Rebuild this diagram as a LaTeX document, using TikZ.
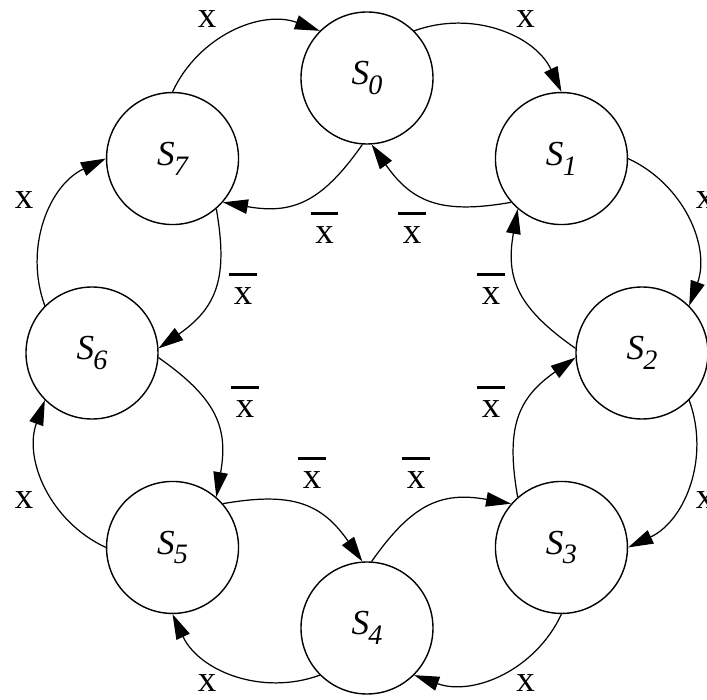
\documentclass[tikz,border=0pt]{standalone}
\usepackage{fontspec}
\setmainfont{Liberation Serif}
\usetikzlibrary{arrows.meta}

\newcommand{\sname}[1]{S\kern-0.02em\raisebox{-0.28em}{\fontsize{16}{16}\selectfont #1}}
\newcommand{\xbar}{\vbox{\hrule width 0.75em height 0.065em\kern 0.33em\hbox to 0.75em{\hfil x\hfil}}}

\begin{document}
\begin{tikzpicture}[>={Triangle[length=5mm, width=2.9mm]}, line width=0.7pt,
  state/.style={circle, draw, line width=0.8pt, minimum size=2.64cm, inner sep=0pt,
    font=\fontsize{20}{22}\selectfont\itshape},
  edge/.style={->, line width=0.7pt},
  inner/.style={edge, looseness=1.2},
  lbl/.style={font=\fontsize{21}{22}\selectfont, inner sep=0pt}]

% Frame
\useasboundingbox (-7.34,-6.94) rectangle (6.80,7.06);

% States
\node[state] (s0) at (90:5.5) {\sname{0}};
\node[state] (s1) at (45:5.5) {\sname{1}};
\node[state] (s2) at (0:5.5) {\sname{2}};
\node[state] (s3) at (-45:5.5) {\sname{3}};
\node[state] (s4) at (-90:5.5) {\sname{4}};
\node[state] (s5) at (-135:5.5) {\sname{5}};
\node[state] (s6) at (180:5.5) {\sname{6}};
\node[state] (s7) at (135:5.5) {\sname{7}};

% Outer arcs: x
\draw[edge] (s0.45) to[out=20, in=115] (s1.90);
\draw[edge] (s1.0) to[out=-25, in=70] (s2.45);
\draw[edge] (s2.-45) to[out=-70, in=25] (s3.0);
\draw[edge] (s3.-90) to[out=-115, in=-20] (s4.-45);
\draw[edge] (s4.-135) to[out=-160, in=-65] (s5.-90);
\draw[edge] (s5.180) to[out=155, in=-110] (s6.-135);
\draw[edge] (s6.135) to[out=110, in=205] (s7.180);
\draw[edge] (s7.90) to[out=65, in=160] (s0.135);

\node[lbl] (x01) at (3.17,6.68) {x};
\node[lbl] (x12) at (6.76,3.05) {x};
\node[lbl] (x23) at (6.76,-2.95) {x};
\node[lbl] (x34) at (3.17,-6.6) {x};
\node[lbl] (x45) at (-3.2,-6.6) {x};
\node[lbl] (x56) at (-6.86,-2.95) {x};
\node[lbl] (x67) at (-6.86,3.05) {x};
\node[lbl] (x70) at (-3.2,6.68) {x};

% Inner arcs: not x
\draw[inner] (s0.266) to[out=235, in=-10] (s7.319);
\draw[inner] (s1.221) to[out=190, in=-55] (s0.274);
\draw[inner] (s2.176) to[out=145, in=-100] (s1.229);
\draw[inner] (s3.131) to[out=100, in=-145] (s2.184);
\draw[inner] (s4.86) to[out=55, in=170] (s3.139);
\draw[inner] (s5.41) to[out=10, in=125] (s4.94);
\draw[inner] (s6.356) to[out=-35, in=80] (s5.49);
\draw[inner] (s7.311) to[out=-80, in=35] (s6.4);

\node[lbl] (n07) at (-0.85,2.5) {\xbar};
\node[lbl] (n10) at (0.9,2.5) {\xbar};
\node[lbl] (n21) at (2.48,1.28) {\xbar};
\node[lbl] (n32) at (2.48,-0.98) {\xbar};
\node[lbl] (n43) at (0.98,-2.4) {\xbar};
\node[lbl] (n54) at (-1.1,-2.4) {\xbar};
\node[lbl] (n65) at (-2.44,-0.98) {\xbar};
\node[lbl] (n76) at (-2.48,1.28) {\xbar};

\end{tikzpicture}
\end{document}
